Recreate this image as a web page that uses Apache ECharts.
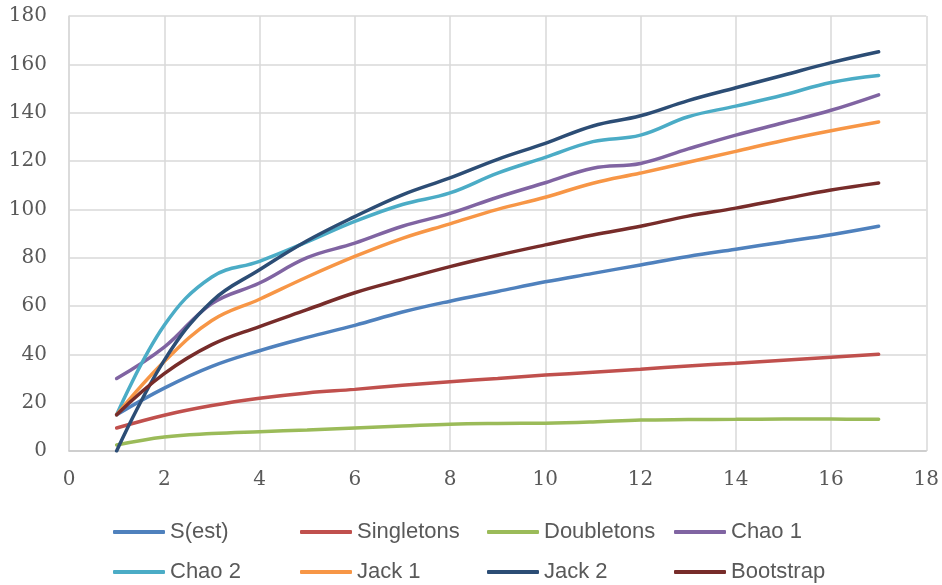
<!DOCTYPE html>
<html>
<head>
<meta charset="utf-8">
<script src="https://cdn.jsdelivr.net/npm/echarts@6/dist/echarts.min.js"></script>
<style>
    html, body { margin: 0; padding: 0; background: #ffffff; }
    #chart { width: 942px; height: 585px; }
</style>
</head>
<body>
<div id="chart"></div>
<script>
    // sample number (x axis)
    var xValues = [1, 2, 3, 4, 5, 6, 7, 8, 9, 10, 11, 12, 13, 14, 15, 16, 17];

    var sEst = [15, 26, 35, 41.5, 47, 52, 57.5, 62, 66, 70, 73.5, 77, 80.5, 83.5, 86.5, 89.5, 93];
    var singletons = [9.5, 14.8, 18.8, 21.8, 24, 25.5, 27.2, 28.7, 30, 31.4, 32.6, 33.8, 35.2, 36.3, 37.6, 38.8, 40];
    var doubletons = [2.5, 5.8, 7.2, 8, 8.7, 9.5, 10.3, 11.1, 11.4, 11.5, 12, 12.8, 13, 13.1, 13.2, 13.2, 13.1];
    var chao1 = [30, 43, 61, 69.5, 80, 86, 93, 98.3, 105, 111, 117, 119, 125, 130.7, 135.8, 141, 147.4];
    var chao2 = [15, 52, 72, 78.5, 86.5, 95, 102, 106.8, 115, 121.5, 128, 130.7, 138.3, 142.7, 147.3, 152.5, 155.4];
    var jack1 = [15, 37, 54, 62.8, 72, 80.5, 88, 94, 100, 105, 110.8, 115, 119.5, 124, 128.5, 132.5, 136.1];
    var jack2 = [0, 37.5, 62, 75, 87, 97, 106, 113, 120.7, 127.3, 134.5, 138.7, 145, 150.3, 155.5, 160.7, 165.2];
    var bootstrap = [15, 32, 44, 51.5, 58.5, 65.5, 71, 76.3, 81, 85.3, 89.4, 93, 97.2, 100.5, 104.3, 108, 110.9];

    var seriesNames = ['S(est)', 'Singletons', 'Doubletons', 'Chao 1', 'Chao 2', 'Jack 1', 'Jack 2', 'Bootstrap'];
    var seriesValues = [sEst, singletons, doubletons, chao1, chao2, jack1, jack2, bootstrap];
    var seriesColors = ['#4f81bd', '#c0504d', '#9bbb59', '#8064a2', '#4bacc6', '#f79646', '#2c4d75', '#772c2a'];

    var xTicks = [0, 18, 2];   // min, max, interval
    var yTicks = [0, 180, 20];

    var chart = echarts.init(document.getElementById('chart'));

    // one legend per entry so the 4 columns line up like the original
    var legends = seriesNames.map(function (name, i) {
        return {
            data: [name],
            left: 113 + (i % 4) * 187,
            top: i < 4 ? 521 : 561,
            padding: 0,
            itemWidth: 52,
            itemHeight: 4,
            itemGap: 0,
            icon: 'roundRect',
            textStyle: {
                color: '#595959',
                fontSize: 22,
                fontFamily: "'Liberation Sans Narrow', 'Liberation Sans', Arial, sans-serif"
            }
        };
    });

    var series = seriesNames.map(function (name, i) {
        return {
            name: name,
            type: 'line',
            smooth: 0.4,
            showSymbol: false,
            symbol: 'none',
            color: seriesColors[i],
            lineStyle: { width: 3.5, color: seriesColors[i], cap: 'round' },
            data: xValues.map(function (x, k) { return [x, seriesValues[i][k]]; })
        };
    });

    var axisFont = {
        color: '#595959',
        fontSize: 20,
        fontFamily: "'DejaVu Serif', 'Liberation Serif', serif"
    };

    chart.setOption({
        animation: false,
        backgroundColor: '#ffffff',
        grid: { left: 69, right: 15, top: 16, bottom: 134 },
        legend: legends,
        xAxis: {
            type: 'value',
            min: xTicks[0],
            max: xTicks[1],
            interval: xTicks[2],
            axisTick: { show: false },
            axisLine: { lineStyle: { color: '#c8c8c8', width: 1.5 } },
            splitLine: { show: true, lineStyle: { color: '#d9d9d9', width: 1.5 } },
            axisLabel: Object.assign({ margin: 19 }, axisFont)
        },
        yAxis: {
            type: 'value',
            min: yTicks[0],
            max: yTicks[1],
            interval: yTicks[2],
            axisTick: { show: false },
            axisLine: { show: true, lineStyle: { color: '#d9d9d9', width: 1.5 } },
            splitLine: { show: true, lineStyle: { color: '#d9d9d9', width: 1.5 } },
            axisLabel: Object.assign({ margin: 22 }, axisFont)
        },
        series: series
    });
</script>
</body>
</html>
